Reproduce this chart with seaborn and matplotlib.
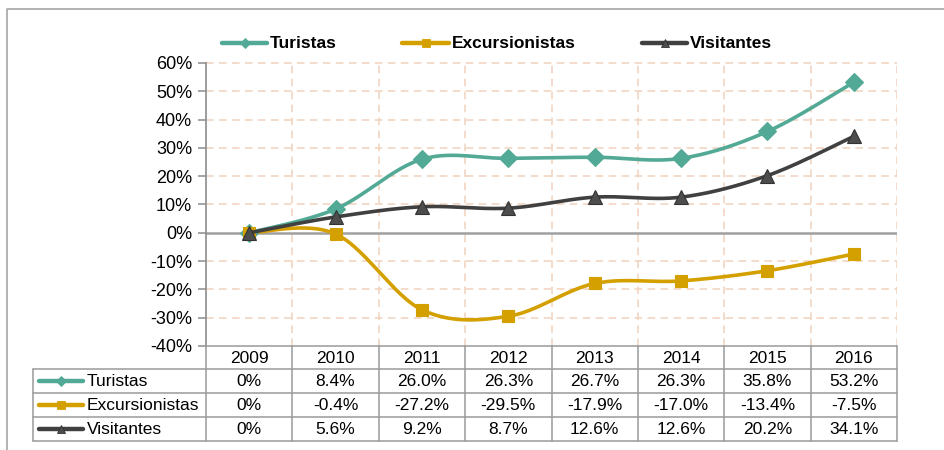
import numpy as np
import pandas as pd
import matplotlib
matplotlib.use("Agg")
import matplotlib.pyplot as plt
import seaborn as sns

years = ["2009", "2010", "2011", "2012", "2013", "2014", "2015", "2016"]
turistas = [0.0, 8.4, 26.0, 26.3, 26.7, 26.3, 35.8, 53.2]
excursionistas = [0.0, -0.4, -27.2, -29.5, -17.9, -17.0, -13.4, -7.5]
visitantes = [0.0, 5.6, 9.2, 8.7, 12.6, 12.6, 20.2, 34.1]
series_names = ["Turistas", "Excursionistas", "Visitantes"]
series_labels = [
    ["0%", "8.4%", "26.0%", "26.3%", "26.7%", "26.3%", "35.8%", "53.2%"],
    ["0%", "-0.4%", "-27.2%", "-29.5%", "-17.9%", "-17.0%", "-13.4%", "-7.5%"],
    ["0%", "5.6%", "9.2%", "8.7%", "12.6%", "12.6%", "20.2%", "34.1%"],
]
yticks = [60, 50, 40, 30, 20, 10, 0, -10, -20, -30, -40]

colors = ["#52A995", "#D4A000", "#404040"]
mfc = ["#52A995", "#D4A000", "#4D4D4D"]
markers = ["D", "s", "^"]
msizes = [9, 9, 10]
small_ms = [5, 6, 6]

sns.set_theme(style="white")
plt.rcParams["font.family"] = ["Liberation Sans", "DejaVu Sans"]

W, H = 944, 450
fig = plt.figure(figsize=(W / 100, H / 100), dpi=100)
L, R, T, B = 206, 897, 63, 346
ax = fig.add_axes([L / W, 1 - B / H, (R - L) / W, (B - T) / H])

df = pd.DataFrame({"x": np.arange(len(years)),
                   "Turistas": turistas, "Excursionistas": excursionistas,
                   "Visitantes": visitantes})


def smooth(xs, ys, n=30):
    xs = np.asarray(xs, float)
    ys = np.asarray(ys, float)
    px = np.concatenate([[xs[0]], xs, [xs[-1]]])
    py = np.concatenate([[ys[0]], ys, [ys[-1]]])
    outx, outy = [], []
    t = np.linspace(0, 1, n)
    for i in range(1, len(px) - 2):
        p0 = np.array([px[i], py[i]])
        p3 = np.array([px[i + 1], py[i + 1]])
        c1 = p0 + (p3 - np.array([px[i - 1], py[i - 1]])) / 6
        c2 = p3 - (np.array([px[i + 2], py[i + 2]]) - p0) / 6
        b = ((1 - t) ** 3)[:, None] * p0 + (3 * (1 - t) ** 2 * t)[:, None] * c1 \
            + (3 * (1 - t) * t ** 2)[:, None] * c2 + (t ** 3)[:, None] * p3
        outx.extend(b[:, 0])
        outy.extend(b[:, 1])
    return np.array(outx), np.array(outy)


ax.set_xlim(-0.5, len(years) - 0.5)
ax.set_ylim(-40, 60)

# grid
for yv in yticks:
    if yv != 0 and yv != -40:
        ax.axhline(yv, color="#F0D2BC", lw=1.1, ls=(0, (5, 3.5)), zorder=1, clip_on=False)
for i in range(1, len(years) + 1):
    ax.axvline(i - 0.5, color="#F0D2BC", lw=1.1, ls=(0, (5, 3.5)), zorder=1)
ax.axhline(0, color="#A0A0A0", lw=1.8, zorder=2)

order = [1, 0, 2]
for k in order:
    name = series_names[k]
    sx, sy = smooth(df["x"], df[name])
    ax.plot(sx, sy, color=colors[k], lw=2.6, zorder=3 + k, solid_capstyle="round")
    sns.lineplot(data=df, x="x", y=name, ax=ax, linestyle="none", marker=markers[k],
                 markersize=msizes[k], color=mfc[k], markeredgecolor=colors[k] if k < 2 else "#333333",
                 markeredgewidth=0.8, zorder=4 + k)

ax.set_yticks(yticks)
ax.set_yticklabels([f"{v}%" for v in yticks], fontsize=13, color="#000000")
ax.set_xticks([])
ax.set_xlabel("")
ax.set_ylabel("")
for s in ["top", "right", "bottom"]:
    ax.spines[s].set_visible(False)
ax.spines["left"].set_color("#8C8C8C")
ax.spines["left"].set_linewidth(1.2)
ax.tick_params(axis="y", left=True, length=6, width=1.1, color="#8C8C8C", pad=4)
ax.set_facecolor("none")

# overlay in pixel coordinates for table, legend and border
ov = fig.add_axes([0, 0, 1, 1], zorder=-1)
ov.set_xlim(0, W)
ov.set_ylim(H, 0)
ov.axis("off")
ov.patch.set_alpha(0)
ov2 = fig.add_axes([0, 0, 1, 1], zorder=5)
ov2.set_xlim(0, W)
ov2.set_ylim(H, 0)
ov2.axis("off")
ov2.patch.set_alpha(0)

# outer border
ov.plot([7, 7, W + 5], [H + 5, 9, 9], color="#A6A6A6", lw=1.2)

tc = "#9A9A9A"
colw = (R - L) / len(years)
rows = [B, 369, 393, 417, 441]
TL = 33
ov2.plot([L, R], [B, B], color=tc, lw=1.1)
for yv in rows[1:]:
    ov2.plot([TL, R], [yv, yv], color=tc, lw=1.1)
ov2.plot([TL, TL], [rows[1], rows[-1]], color=tc, lw=1.1)
for i in range(len(years) + 1):
    xv = L + i * colw
    ov2.plot([xv, xv], [B, rows[-1]], color=tc, lw=1.1)

for i, yr in enumerate(years):
    ov2.text(L + (i + 0.5) * colw, (rows[0] + rows[1]) / 2 + 1, yr, ha="center", va="center",
             fontsize=12.5, color="#000000")
for k in range(3):
    yc = (rows[k + 1] + rows[k + 2]) / 2
    ov2.plot([39, 83], [yc, yc], color=colors[k], lw=3.2, solid_capstyle="round")
    ov2.plot([61], [yc], marker=markers[k], markersize=small_ms[k], color=mfc[k],
             markeredgecolor=colors[k] if k < 2 else "#333333", markeredgewidth=0.6)
    ov2.text(87, yc + 1, series_names[k], ha="left", va="center", fontsize=12.5, color="#000000")
    for i, lab in enumerate(series_labels[k]):
        ov2.text(L + (i + 0.5) * colw, yc + 1, lab, ha="center", va="center",
                 fontsize=12.5, color="#000000")

# legend
leg = [(222, 267, 270), (402, 449, 452), (642, 687, 690)]
ly = 43
for k, (x0, x1, xt) in enumerate(leg):
    ov2.plot([x0, x1], [ly, ly], color=colors[k], lw=3.2, solid_capstyle="round")
    ov2.plot([(x0 + x1) / 2], [ly], marker=markers[k], markersize=small_ms[k], color=mfc[k],
             markeredgecolor=colors[k] if k < 2 else "#333333", markeredgewidth=0.6)
    ov2.text(xt, ly + 1, series_names[k], ha="left", va="center", fontsize=12.5,
             fontweight="bold", color="#000000")

fig.savefig("out.png", dpi=100, facecolor="white")
